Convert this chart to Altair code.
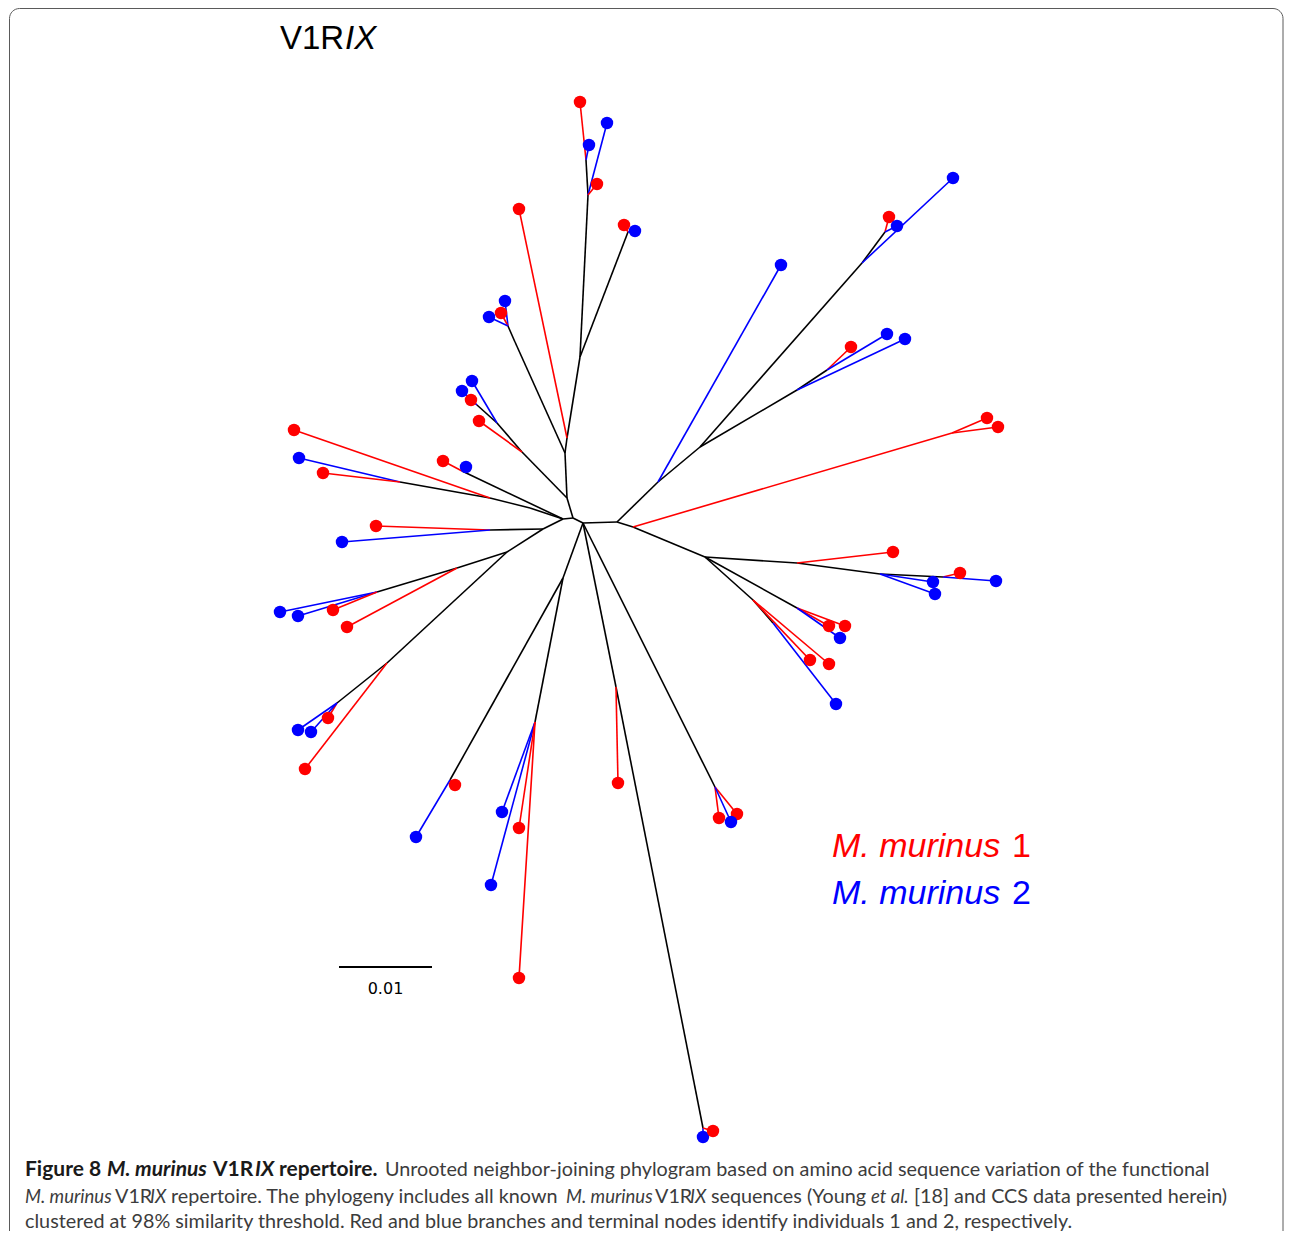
import altair as alt
import pandas as pd

# ---------------- tree data (positions) ----------------
node_names = ["C0","C1","C2","C3","T1","T2","T3","T4","T5","T6","T7","U1","U2","V1","V2","V3",
              "W1","W2","W3","W4","X1","X2","Y1","Y2","Y3","Y4","Y5","Z1","Z2","Z3","Z5","Z6","Z7",
              "R1","R2","R3","R4","R5","R6","R7","R8","R9","R10","R11","R12","R14","R15","R16"]
node_x = [563,573,583,617,567,565,567,580,588,586,628,515,508,522,497,477,
          530,490,400,462,543,490,507,457,377,387,337,563,450,535,616,703,715,
          658,700,862,885,797,827,633,952,705,797,880,943,797,753,773]
node_y = [519,518,523,522,498,453,438,357,195,160,232,342,326,452,423,405,
          508,498,482,471,529,530,552,568,592,663,703,578,780,722,687,1128,787,
          482,447,263,232,390,370,527,433,557,563,574,577,608,600,623]

edge_parent = ["C0","C1","C2","C1","T1","T2","T3","T4","T5","T4","T2","U1","T1","V1","V2",
               "C0","W1","W2","C0","C0","X1","X1","Y1","Y2","Y1","Y4","C2","Z1","Z1","C2","Z5","C2",
               "C3","R1","R2","R3","R2","R5","C3","R7","R7","R9","R10","R11","R9","R9","R15"]
edge_child = ["C1","C2","C3","T1","T2","T3","T4","T5","T6","T7","U1","U2","V1","V2","V3",
              "W1","W2","W3","W4","X1","X2","Y1","Y2","Y3","Y4","Y5","Z1","Z2","Z3","Z5","Z6","Z7",
              "R1","R2","R3","R4","R5","R6","R7","R8","R9","R10","R11","R12","R14","R15","R16"]
edge_individual = [0]*39 + [1] + [0]*7

leaf_parent = ["T6","T6","T5","T5","T7","T7","T3","U2","U2","U2","V1","V2","V3","V3",
               "W2","W3","W3","W4","W4","X2","X2","Y2","Y3","Y3","Y3","Y4","Y5","Y5","Y5",
               "Z2","Z2","Z3","Z3","Z3","Z3","Z5","Z6","Z6","Z7","Z7","Z7","R1","R4","R4","R3",
               "R5","R6","R6","R8","R8","R10","R11","R11","R12","R12","R14","R14","R14","R15","R15","R16"]
leaf_x = [580,589,607,597,624,635,519,505,501,489,479,472,471,462,
          294,299,323,466,443,376,342,347,280,298,333,305,328,298,311,
          455,416,502,491,519,519,618,703,713,719,737,731,781,889,897,953,
          905,851,887,987,998,893,933,935,960,996,829,845,840,810,829,836]
leaf_y = [102,145,123,184,225,231,209,301,313,317,421,381,400,391,
          430,458,473,467,461,526,542,627,612,616,610,769,718,730,732,
          785,837,812,885,828,978,783,1137,1131,818,814,822,265,217,226,178,
          339,347,334,418,427,552,582,594,573,581,626,626,638,660,664,704]
leaf_individual = [1,2,2,1,1,2,1, 2,1,2, 1,2,1,2, 1,2,1,2,1, 1,2, 1,2,2,1, 1,1,2,2,
                   1,2, 2,2,1,1, 1, 2,1, 1,1,2, 2, 1,2, 2, 2, 1,2, 1,1, 1, 2,2, 1,2,
                   1,1,2, 1,1, 2]

# scale bar
scalebar_x = [339, 432]
scalebar_y = 967
scalebar_label = "0.01"

# ---------------- texts ----------------
title_text = ["V1R", "IX"]
title_x = [280, 345]
title_y = [49, 49]
title_style = ["normal", "italic"]

legend_text = ["M. murinus", "1", "M. murinus", "2"]
legend_x = [832, 1012, 832, 1012]
legend_y = [857, 857, 904, 904]
legend_style = ["italic", "normal", "italic", "normal"]
legend_individual = [1, 1, 2, 2]

cap_text = ["Figure 8", "M. murinus", "V1R", "IX", "repertoire.",
            "Unrooted neighbor-joining phylogram based on amino acid sequence variation of the functional",
            "M. murinus", "V1R", "IX", "repertoire. The phylogeny includes all known",
            "M. murinus", "V1R", "IX", "sequences (Young", "et al.", "[18] and CCS data presented herein)",
            "clustered at 98% similarity threshold. Red and blue branches and terminal nodes identify individuals 1 and 2, respectively."]
cap_x = [25, 107, 213, 255, 279, 385,
         25, 115, 150, 171, 566, 655, 690, 711, 871, 914,
         25]
cap_y = [1176]*6 + [1203]*10 + [1228]
cap_style = ["bold", "bolditalic", "bold", "bolditalic", "bold", "normal",
             "italic", "normal", "italic", "normal",
             "italic", "normal", "italic", "normal", "italic", "normal",
             "normal"]

# ---------------- build tables ----------------
pos = {n: (x, y) for n, x, y in zip(node_names, node_x, node_y)}
group_names = {0: "internal", 1: "ind1", 2: "ind2"}

edges = pd.DataFrame({
    "x": [pos[p][0] for p in edge_parent], "y": [pos[p][1] for p in edge_parent],
    "x2": [pos[c][0] for c in edge_child], "y2": [pos[c][1] for c in edge_child],
    "tone": [group_names[g] for g in edge_individual],
})
leaf_edges = pd.DataFrame({
    "x": [pos[p][0] for p in leaf_parent], "y": [pos[p][1] for p in leaf_parent],
    "x2": leaf_x, "y2": leaf_y,
    "tone": [group_names[g] for g in leaf_individual],
})
leaves = pd.DataFrame({"x": leaf_x, "y": leaf_y, "tone": [group_names[g] for g in leaf_individual]})

tones = ["internal", "ind1", "ind2", "captionbold", "caption", "frame"]
tone_colors = ["#000000", "#ff0000", "#0000ff", "#1a1a1a", "#3c3c3c", "#666666"]

X = alt.X("x:Q", scale=alt.Scale(domain=[8, 1284], nice=False, zero=False), axis=None)
Y = alt.Y("y:Q", scale=alt.Scale(domain=[8, 1231], nice=False, zero=False, reverse=True), axis=None)
COLOR = alt.Color("tone:N", scale=alt.Scale(domain=tones, range=tone_colors), legend=None)

frame = alt.Chart(pd.DataFrame({"a": [0]})).mark_rect(
    filled=False, stroke="#5a5a5a", strokeWidth=1, cornerRadius=10
).encode(x=alt.value(1.5), x2=alt.value(1275), y=alt.value(0.5), y2=alt.value(1240))

black_edges = alt.Chart(edges[edges.tone == "internal"]).mark_rule(strokeWidth=1.6).encode(
    x=X, y=Y, x2="x2:Q", y2="y2:Q", color=COLOR)
colored_edges = alt.Chart(pd.concat([edges[edges.tone != "internal"], leaf_edges])).mark_rule(strokeWidth=1.6).encode(
    x=X, y=Y, x2="x2:Q", y2="y2:Q", color=COLOR)
dots = alt.Chart(leaves).mark_circle(size=155, opacity=1).encode(x=X, y=Y, color=COLOR)

sb = pd.DataFrame({"x": [scalebar_x[0]], "x2": [scalebar_x[1]], "y": [scalebar_y], "tone": ["internal"]})
scale_rule = alt.Chart(sb).mark_rule(strokeWidth=2).encode(x=X, x2="x2:Q", y=Y, color=COLOR)
sb_lab = pd.DataFrame({"x": [sum(scalebar_x) / 2], "y": [scalebar_y + 27], "text": [scalebar_label], "tone": ["internal"]})
scale_text = alt.Chart(sb_lab).mark_text(font="DejaVu Sans", fontSize=16, align="center",
                                         baseline="alphabetic").encode(x=X, y=Y, text="text:N", color=COLOR)


def texts(df, font, size, style, weight):
    return alt.Chart(df).mark_text(font=font, fontSize=size, fontStyle=style, fontWeight=weight,
                                   align="left", baseline="alphabetic").encode(
        x=X, y=Y, text="text:N", color=COLOR)


title_df = pd.DataFrame({"x": title_x, "y": title_y, "text": title_text, "st": title_style, "tone": "internal"})
legend_df = pd.DataFrame({"x": legend_x, "y": legend_y, "text": legend_text, "st": legend_style,
                          "tone": [group_names[g] for g in legend_individual]})
cap_df = pd.DataFrame({"x": cap_x, "y": cap_y, "text": cap_text, "st": cap_style})
cap_df["tone"] = ["captionbold" if "bold" in s else "caption" for s in cap_style]

layers = [frame, black_edges, colored_edges, dots, scale_rule, scale_text]
for st in ["normal", "italic"]:
    layers.append(texts(title_df[title_df.st == st], "Liberation Sans", 33, st, "normal"))
    layers.append(texts(legend_df[legend_df.st == st], "Liberation Sans", 34, st, "normal"))
cap_font = "Lato"
for st, fs, fw, size in [("normal", "normal", "normal", 19.8), ("italic", "italic", "normal", 18.5),
                         ("bold", "normal", "bold", 21), ("bolditalic", "italic", "bold", 21)]:
    layers.append(texts(cap_df[cap_df.st == st], cap_font, size, fs, fw))

chart = alt.layer(*layers).properties(
    width=1276, height=1223, padding=0, autosize=alt.AutoSizeParams(type="none")
).configure_view(stroke=None)

chart.save("out.html", embed_options={"renderer": "svg", "actions": False})
